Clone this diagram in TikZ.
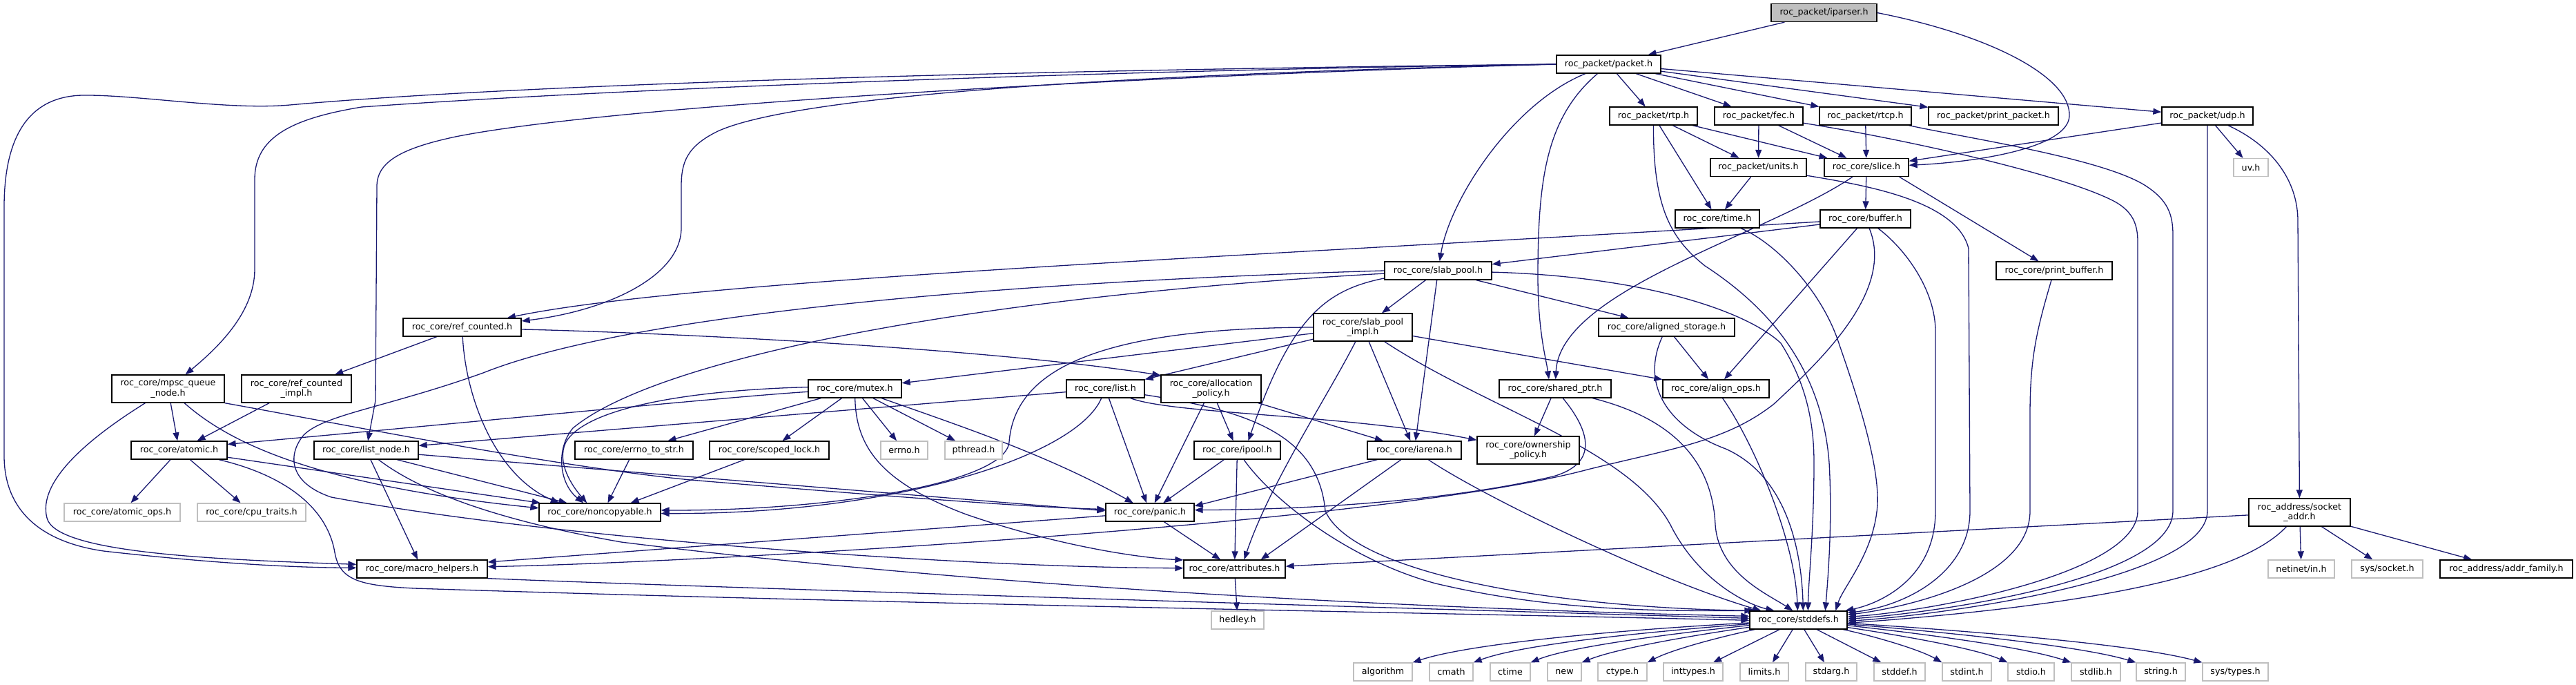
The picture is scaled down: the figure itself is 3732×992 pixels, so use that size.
\documentclass[tikz,border=0pt]{standalone}
\usepackage{fontspec}
\setmainfont{DejaVu Sans}
\usetikzlibrary{arrows.meta,calc}
\definecolor{eblue}{HTML}{191970}
\definecolor{lgray}{HTML}{BFBFBF}
\pgfdeclarelayer{bg}
\pgfsetlayers{bg,main}
\tikzset{
  nd/.style={draw=black, line width=1.3pt, fill=white, inner sep=0pt, minimum height=26pt, align=center, font=\fontsize{12.7}{14.5}\selectfont},
  nd2/.style={nd, minimum height=40pt},
  ext/.style={nd, draw=lgray},
  edg/.style={draw=eblue, line width=1.3pt, -{Triangle[length=12pt,width=9pt]}},
}
\begin{document}
\begin{tikzpicture}[x=1pt,y=-1pt]
\useasboundingbox (0,0) rectangle (3732,992);
% ---------- nodes ----------
\node[nd, fill=lgray, minimum width=153pt] (iparser) at (2642.5,18.5) {roc\_packet/iparser.h};
\node[nd, minimum width=151pt] (packet) at (2330.5,93) {roc\_packet/packet.h};
\node[nd, minimum width=127pt] (rtp) at (2395.5,168) {roc\_packet/rtp.h};
\node[nd, minimum width=128pt] (fec) at (2548,168) {roc\_packet/fec.h};
\node[nd, minimum width=133pt] (rtcp) at (2702.5,168) {roc\_packet/rtcp.h};
\node[nd, minimum width=188pt] (printpacket) at (2888,168) {roc\_packet/print\_packet.h};
\node[nd, minimum width=132pt] (udp) at (3198,168) {roc\_packet/udp.h};
\node[nd, minimum width=139pt] (units) at (2547.5,242.5) {roc\_packet/units.h};
\node[nd, minimum width=122pt] (slice) at (2704,242.5) {roc\_core/slice.h};
\node[ext, minimum width=50pt] (uv) at (3261,242.5) {uv.h};
\node[nd, minimum width=122pt] (time) at (2488,317) {roc\_core/time.h};
\node[nd, minimum width=131pt] (buffer) at (2702.5,317) {roc\_core/buffer.h};
\node[nd, minimum width=155pt] (slabpool) at (2083.5,392) {roc\_core/slab\_pool.h};
\node[nd, minimum width=168pt] (printbuffer) at (2976,392) {roc\_core/print\_buffer.h};
\node[nd, minimum width=171pt] (refcounted) at (669.5,474) {roc\_core/ref\_counted.h};
\node[nd2, minimum width=143pt] (slabimpl) at (1974.5,474) {roc\_core/slab\_pool\\\_impl.h};
\node[nd, minimum width=197pt] (alignedstorage) at (2414.5,474) {roc\_core/aligned\_storage.h};
\node[nd2, minimum width=163pt] (mpsc) at (243.5,563) {roc\_core/mpsc\_queue\\\_node.h};
\node[nd2, minimum width=159pt] (refimpl) at (429.5,563) {roc\_core/ref\_counted\\\_impl.h};
\node[nd, minimum width=135pt] (mutex) at (1238.5,563) {roc\_core/mutex.h};
\node[nd, minimum width=113pt] (list) at (1601.5,563) {roc\_core/list.h};
\node[nd2, minimum width=145pt] (allocpolicy) at (1754.5,563) {roc\_core/allocation\\\_policy.h};
\node[nd, minimum width=162pt] (sharedptr) at (2253,563) {roc\_core/shared\_ptr.h};
\node[nd, minimum width=154pt] (alignops) at (2486,563) {roc\_core/align\_ops.h};
\node[nd, minimum width=139pt] (atomic) at (259.5,652) {roc\_core/atomic.h};
\node[nd, minimum width=151pt] (listnode) at (530.5,652) {roc\_core/list\_node.h};
\node[nd, minimum width=171pt] (errnostr) at (918.5,652) {roc\_core/errno\_to\_str.h};
\node[nd, minimum width=173pt] (scopedlock) at (1114.5,652) {roc\_core/scoped\_lock.h};
\node[ext, minimum width=68pt] (errno) at (1310,652) {errno.h};
\node[ext, minimum width=83pt] (pthread) at (1410.5,652) {pthread.h};
\node[nd, minimum width=125pt] (ipool) at (1792.5,652) {roc\_core/ipool.h};
\node[nd, minimum width=136pt] (iarena) at (2049,652) {roc\_core/iarena.h};
\node[nd2, minimum width=148pt] (ownership) at (2214,652) {roc\_core/ownership\\\_policy.h};
\node[ext, minimum width=168pt] (atomicops) at (177,742) {roc\_core/atomic\_ops.h};
\node[ext, minimum width=157pt] (cputraits) at (364.5,742) {roc\_core/cpu\_traits.h};
\node[nd, minimum width=176pt] (noncopyable) at (869,742) {roc\_core/noncopyable.h};
\node[nd, minimum width=128pt] (panic) at (1666,742) {roc\_core/panic.h};
\node[nd2, minimum width=147pt] (socketaddr) at (3331.5,742) {roc\_address/socket\\\_addr.h};
\node[nd, minimum width=189pt] (macro) at (611.5,824) {roc\_core/macro\_helpers.h};
\node[nd, minimum width=147pt] (attributes) at (1788.5,824) {roc\_core/attributes.h};
\node[ext, minimum width=96pt] (netinet) at (3334,824) {netinet/in.h};
\node[ext, minimum width=103pt] (syssocket) at (3458.5,824) {sys/socket.h};
\node[nd, minimum width=192pt] (addrfamily) at (3631,824) {roc\_address/addr\_family.h};
\node[ext, minimum width=76pt] (hedley) at (1793,898) {hedley.h};
\node[nd, minimum width=141pt] (stddefs) at (2605.5,898) {roc\_core/stddefs.h};
\node[ext, minimum width=85pt] (algorithm) at (2003.5,973) {algorithm};
\node[ext, minimum width=63pt] (cmath) at (2102.5,973) {cmath};
\node[ext, minimum width=58pt] (ctime) at (2188,973) {ctime};
\node[ext, minimum width=49pt] (new) at (2266.5,973) {new};
\node[ext, minimum width=71pt] (ctype) at (2350.5,973) {ctype.h};
\node[ext, minimum width=86pt] (inttypes) at (2453,973) {inttypes.h};
\node[ext, minimum width=70pt] (limits) at (2556,973) {limits.h};
\node[ext, minimum width=74pt] (stdarg) at (2653,973) {stdarg.h};
\node[ext, minimum width=74pt] (stddef) at (2752,973) {stddef.h};
\node[ext, minimum width=71pt] (stdint) at (2849.5,973) {stdint.h};
\node[ext, minimum width=67pt] (stdio) at (2942.5,973) {stdio.h};
\node[ext, minimum width=71pt] (stdlib) at (3036.5,973) {stdlib.h};
\node[ext, minimum width=71pt] (string) at (3130.5,973) {string.h};
\node[ext, minimum width=95pt] (systypes) at (3238.5,973) {sys/types.h};
% ---------- edges ----------
\begin{pgfonlayer}{bg}
% iparser
\draw[edg] (iparser) -- (packet);
\draw[edg] (iparser.east) .. controls (2880,50) and (3000,110) .. (2998,168) .. controls (2996,215) and (2860,235) .. (slice.3);
% packet
\draw[edg] (packet) -- (rtp);
\draw[edg] (packet) -- (fec);
\draw[edg] (packet) -- (rtcp);
\draw[edg] (packet) -- (printpacket);
\draw[edg] (packet) -- (udp);
\draw[edg] (packet) .. controls (2190,150) and (2100,290) .. (slabpool);
\draw[edg] (packet) .. controls (2240,170) and (2228,260) .. (2228,400) .. controls (2228,480) and (2240,520) .. ($(sharedptr.north)+(-9,0)$);
\draw[edg] (packet.west) .. controls (1600,100) and (800,118) .. (420,152) .. controls (330,160) and (200,137) .. (119,138) .. controls (40,140) and (6,200) .. (6,300) -- (6,660) .. controls (6,740) and (60,785) .. (150,798) .. controls (300,815) and (420,822) .. (macro.179);
\draw[edg] (packet.west) .. controls (1600,102) and (900,128) .. (524,155) .. controls (420,172) and (369,200) .. (369,260) -- (369,390) .. controls (369,450) and (320,500) .. (mpsc);
\draw[edg] (packet.west) .. controls (1700,108) and (900,150) .. (660,198) .. controls (580,215) and (546,235) .. (546,270) -- (544,580) -- (listnode);
\draw[edg] (packet.west) .. controls (1600,108) and (1150,140) .. (1040,190) .. controls (995,212) and (987,235) .. (987,270) -- (987,330) .. controls (987,400) and (880,450) .. (refcounted.6);
% rtp
\draw[edg] (rtp) -- (units);
\draw[edg] (rtp) -- (slice);
\draw[edg] (rtp) -- (time);
\draw[edg] (rtp) .. controls (2395,300) and (2420,345) .. (2470,385) .. controls (2570,450) and (2640,540) .. (2650,670) .. controls (2655,760) and (2648,840) .. ($(stddefs.north west)+(110,0)$);
% fec
\draw[edg] (fec) -- (units);
\draw[edg] (fec) -- (slice);
\draw[edg] (fec) .. controls (2750,200) and (2980,250) .. (3060,290) .. controls (3090,305) and (3097,325) .. (3097,350) -- (3097,740) .. controls (3097,830) and (2800,885) .. ($(stddefs.north east)+(0,9)$);
% rtcp
\draw[edg] (rtcp) -- (slice);
\draw[edg] (rtcp) .. controls (2850,200) and (3050,230) .. (3110,270) .. controls (3140,290) and (3148,310) .. (3148,340) -- (3148,740) .. controls (3148,840) and (2800,888) .. ($(stddefs.north east)+(0,12)$);
% udp
\draw[edg] (udp) -- (uv);
\draw[edg] (udp) -- (slice);
\draw[edg] (udp.south) -- (3198,740) .. controls (3198,840) and (2800,892) .. ($(stddefs.north east)+(0,15)$);
\draw[edg] (udp) .. controls (3290,210) and (3329,260) .. (3329,320) -- (socketaddr);
% units
\draw[edg] (units) -- (time);
\draw[edg] (units) .. controls (2700,268) and (2835,290) .. (2852,360) -- (2854,740) .. controls (2854,830) and (2760,878) .. ($(stddefs.north east)+(0,3)$);
% slice
\draw[edg] (slice) -- (buffer);
\draw[edg] ($(slice.south east)+(-14,0)$) -- (printbuffer);
\draw[edg] (slice) .. controls (2560,340) and (2260,420) .. (sharedptr);
% time
\draw[edg] (time) .. controls (2570,350) and (2640,420) .. (2665,500) .. controls (2700,600) and (2722,680) .. (2720,730) .. controls (2716,800) and (2670,850) .. ($(stddefs.north west)+(125,0)$);
% buffer
\draw[edg] (buffer) -- (slabpool);
\draw[edg] (buffer) .. controls (1800,372) and (1000,405) .. (refcounted);
\draw[edg] (buffer) -- (alignops);
\draw[edg] (buffer) .. controls (2745,420) and (2640,520) .. (2570,585) .. controls (2500,640) and (2420,650) .. (2300,680) .. controls (2000,760) and (1000,815) .. (macro.2);
\draw[edg] (buffer) .. controls (2760,360) and (2804,420) .. (2804,480) -- (2804,740) .. controls (2804,840) and (2720,875) .. ($(stddefs.north west)+(139,0)$);
% print_buffer
\draw[edg] (printbuffer) .. controls (2950,480) and (2941,520) .. (2941,600) -- (2941,740) .. controls (2941,840) and (2760,880) .. ($(stddefs.north east)+(0,6)$);
% slab_pool
\draw[edg] (slabpool) -- (slabimpl);
\draw[edg] (slabpool) -- (iarena);
\draw[edg] (slabpool) -- (alignedstorage);
\draw[edg] (slabpool) .. controls (2380,400) and (2530,450) .. (2580,497) .. controls (2620,560) and (2628,620) .. (2628,670) .. controls (2628,770) and (2620,840) .. ($(stddefs.north west)+(85,0)$);
\draw[edg] (slabpool.180) .. controls (1400,410) and (900,460) .. (700,540) .. controls (560,590) and (470,600) .. (440,630) .. controls (415,660) and (420,700) .. (480,720) .. controls (800,780) and (1400,822) .. (attributes.179);
\draw[edg] (slabpool.183) .. controls (1400,430) and (950,520) .. (830,620) .. controls (805,650) and (810,700) .. (noncopyable.150);
\draw[edg] (slabpool.188) .. controls (1920,420) and (1870,460) .. ($(ipool.north)+(16,0)$);
% slab_pool_impl
\draw[edg] (slabimpl) -- (mutex);
\draw[edg] (slabimpl) -- (list);
\draw[edg] (slabimpl.west) .. controls (1580,475) and (1470,540) .. (1462,640) .. controls (1458,700) and (1200,740) .. (noncopyable.2);
\draw[edg] (slabimpl) -- (alignops);
\draw[edg] (slabimpl) .. controls (1920,580) and (1840,700) .. ($(attributes.north)+(14,0)$);
\draw[edg] (slabimpl) -- (iarena);
\draw[edg] (slabimpl) .. controls (2150,590) and (2360,650) .. (2420,760) .. controls (2460,840) and (2530,875) .. ($(stddefs.north west)+(36,0)$);
% ref_counted
\draw[edg] (refcounted) -- (refimpl);
\draw[edg] (refcounted) .. controls (675,580) and (720,690) .. (noncopyable.167);
\draw[edg] (refcounted.-2) .. controls (900,480) and (1400,500) .. (allocpolicy.165);
\draw[edg] (refimpl) -- (atomic);
% mpsc_queue_node
\draw[edg] (mpsc) .. controls (120,640) and (55,700) .. (68,750) .. controls (80,800) and (300,810) .. (macro.176);
\draw[edg] (mpsc) -- (atomic);
\draw[edg] (mpsc) .. controls (320,630) and (430,700) .. (noncopyable.176);
\draw[edg] (mpsc.south east) .. controls (500,615) and (800,675) .. (1000,695) .. controls (1300,720) and (1500,735) .. (panic.176);
% atomic
\draw[edg] (atomic) -- (atomicops);
\draw[edg] (atomic) -- (cputraits);
\draw[edg] (atomic) -- (noncopyable.171);
\draw[edg] (atomic) .. controls (420,690) and (475,740) .. (485,800) .. controls (492,840) and (520,848) .. (600,852) .. controls (1300,875) and (2200,890) .. ($(stddefs.north west)+(0,14)$);
% list_node
\draw[edg] (listnode) -- (macro);
\draw[edg] (listnode.-17) -- (noncopyable.164);
\draw[edg] (listnode) -- (panic.178);
\draw[edg] (listnode) .. controls (600,705) and (700,750) .. (900,785) .. controls (1500,860) and (2200,885) .. ($(stddefs.north west)+(0,8)$);
% mutex
\draw[edg] (mutex) .. controls (1050,575) and (700,610) .. (atomic.7);
\draw[edg] (mutex.178) .. controls (1000,565) and (850,590) .. (820,640) .. controls (805,670) and (830,705) .. (noncopyable.144);
\draw[edg] (mutex) -- (errnostr);
\draw[edg] (mutex) -- (scopedlock);
\draw[edg] (mutex) -- (errno);
\draw[edg] (mutex) -- (pthread);
\draw[edg] (mutex) .. controls (1240,650) and (1280,700) .. (1400,745) .. controls (1530,790) and (1650,808) .. (attributes.170);
\draw[edg] (mutex) .. controls (1400,620) and (1520,660) .. (panic);
\draw[edg] (errnostr) -- (noncopyable.50);
\draw[edg] (scopedlock) -- (noncopyable.17);
% list
\draw[edg] (list) -- (listnode.5);
\draw[edg] (list) .. controls (1560,660) and (1300,745) .. (noncopyable.-1);
\draw[edg] (list) -- (panic);
\draw[edg] (list) .. controls (1700,600) and (1950,600) .. (ownership);
\draw[edg] (list) .. controls (1810,595) and (1910,630) .. (1920,740) .. controls (1960,830) and (2250,880) .. ($(stddefs.north west)+(5,0)$);
% allocation_policy
\draw[edg] (allocpolicy) -- (panic);
\draw[edg] (allocpolicy) -- (ipool);
\draw[edg] (allocpolicy) -- (iarena);
% ipool
\draw[edg] (ipool) -- (panic);
\draw[edg] (ipool) -- (attributes);
\draw[edg] (ipool) .. controls (1840,720) and (1950,810) .. (2080,845) .. controls (2250,885) and (2400,885) .. ($(stddefs.north west)+(10,0)$);
% iarena
\draw[edg] (iarena) -- (panic.8);
\draw[edg] (iarena) -- ($(attributes.north east)+(-36,0)$);
\draw[edg] (iarena) .. controls (2150,720) and (2400,840) .. ($(stddefs.north west)+(17,0)$);
% shared_ptr
\draw[edg] (sharedptr) -- (ownership);
\draw[edg] (sharedptr) .. controls (2300,620) and (2320,670) .. (2250,690) .. controls (2100,725) and (1900,738) .. (panic.3);
\draw[edg] (sharedptr) .. controls (2400,600) and (2480,650) .. (2485,760) .. controls (2490,830) and (2560,860) .. ($(stddefs.north west)+(63,0)$);
% aligned_storage, align_ops
\draw[edg] (alignedstorage) -- (alignops);
\draw[edg] (alignedstorage) .. controls (2375,560) and (2420,620) .. (2500,650) .. controls (2590,690) and (2610,800) .. ($(stddefs.north west)+(78,0)$);
\draw[edg] (alignops) .. controls (2540,640) and (2600,780) .. ($(stddefs.north west)+(70,0)$);
% panic, macro, attributes
\draw[edg] (panic) -- (attributes);
\draw[edg] (panic) -- (macro.6);
\draw[edg] (macro.south east) .. controls (1000,850) and (2000,880) .. ($(stddefs.north west)+(0,11)$);
\draw[edg] (attributes) -- (hedley);
% socket_addr
\draw[edg] (socketaddr) -- (netinet);
\draw[edg] (socketaddr) -- (syssocket);
\draw[edg] (socketaddr) -- (addrfamily);
\draw[edg] (socketaddr) -- (attributes);
\draw[edg] (socketaddr) .. controls (3250,830) and (3050,875) .. ($(stddefs.north east)+(0,18)$);
% stddefs -> system headers
\draw[edg] (stddefs) .. controls (2300,915) and (2120,935) .. (algorithm.north east);
\draw[edg] (stddefs) .. controls (2350,918) and (2200,935) .. (cmath.north east);
\draw[edg] (stddefs) .. controls (2400,920) and (2270,938) .. (ctime.north east);
\draw[edg] (stddefs) .. controls (2440,922) and (2340,940) .. (new.north east);
\draw[edg] (stddefs) .. controls (2480,925) and (2420,942) .. (ctype.north east);
\draw[edg] (stddefs) -- ($(inttypes.north)+(29,0)$);
\draw[edg] (stddefs) -- ($(limits.north)+(12,0)$);
\draw[edg] (stddefs) -- ($(stdarg.north)+(-10,0)$);
\draw[edg] (stddefs) -- ($(stddef.north west)+(11,0)$);
\draw[edg] (stddefs) .. controls (2710,920) and (2780,940) .. (stdint.north west);
\draw[edg] (stddefs) .. controls (2740,918) and (2860,938) .. (stdio.north west);
\draw[edg] (stddefs) .. controls (2770,916) and (2930,936) .. (stdlib.north west);
\draw[edg] (stddefs) .. controls (2800,914) and (3010,934) .. (string.north west);
\draw[edg] (stddefs) .. controls (2830,912) and (3090,932) .. (systypes.north west);
\end{pgfonlayer}
\end{tikzpicture}
\end{document}
